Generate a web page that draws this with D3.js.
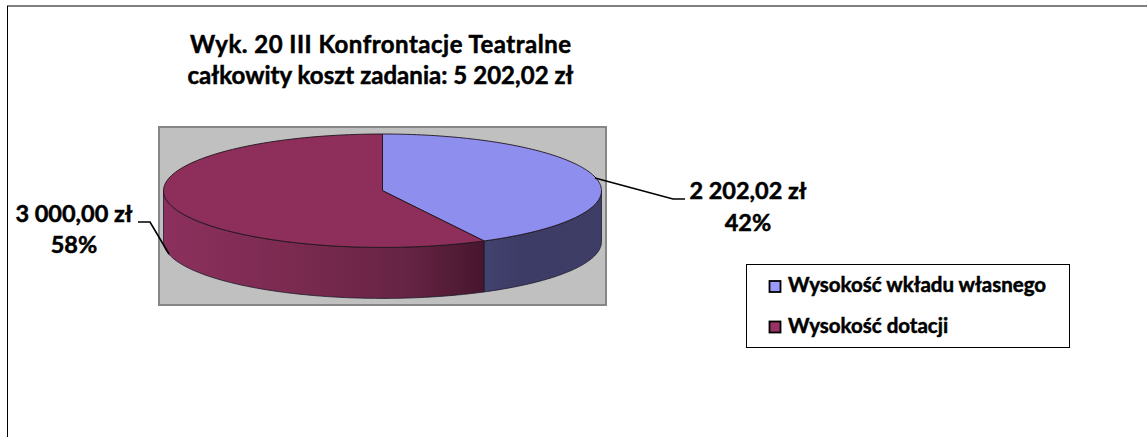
<!DOCTYPE html>
<html><head><meta charset="utf-8">
<script src="https://cdn.jsdelivr.net/npm/d3@7"></script>
<style>html,body{margin:0;padding:0;background:#fff}svg{display:block}text{font-family:Lato,"Open Sans",sans-serif;font-weight:700;fill:#000;stroke:#000;stroke-width:.5px}</style>
</head><body><div id="c"></div>
<script>
const titleLines = ["Wyk. 20 III Konfrontacje Teatralne", "całkowity koszt zadania: 5 202,02 zł"];
const categories = ["Wysokość wkładu własnego", "Wysokość dotacji"];
const values = [2202.02, 3000.00];
const valueLabels = ["2 202,02 zł", "3 000,00 zł"];
const percentLabels = ["42%", "58%"];
const topColors = ["#8e8eee", "#8e2f5b"];
const swatchColors = ["#9999ff", "#993366"];

const W = 1147, H = 437;
const svg = d3.select("#c").append("svg").attr("width", W).attr("height", H);
const defs = svg.append("defs");
const cx = 382.5, cy = 190.7, rx = 219, ry = 56.7, depth = 51;

const gradBlue = defs.append("linearGradient").attr("id","sideBlue").attr("gradientUnits","userSpaceOnUse")
  .attr("x1",484).attr("x2",602).attr("y1",0).attr("y2",0);
gradBlue.append("stop").attr("offset",0).attr("stop-color","#424270");
gradBlue.append("stop").attr("offset",0.3).attr("stop-color","#3d3c66");
gradBlue.append("stop").attr("offset",1).attr("stop-color","#3e3d66");
const gradRed = defs.append("linearGradient").attr("id","sideRed").attr("gradientUnits","userSpaceOnUse")
  .attr("x1",163).attr("x2",484).attr("y1",0).attr("y2",0);
gradRed.append("stop").attr("offset",0).attr("stop-color","#8c305d");
gradRed.append("stop").attr("offset",0.4).attr("stop-color","#7b2a50");
gradRed.append("stop").attr("offset",0.75).attr("stop-color","#672444");
gradRed.append("stop").attr("offset",1).attr("stop-color","#47162e");
const sideFills = ["url(#sideBlue)","url(#sideRed)"];

// frame of the chart
svg.append("line").attr("x1",7).attr("x2",W).attr("y1",6).attr("y2",6).attr("stroke","#808080").attr("stroke-width",2);
svg.append("line").attr("x1",7.5).attr("x2",7.5).attr("y1",6).attr("y2",H).attr("stroke","#000").attr("stroke-width",1);

// plot area
svg.append("rect").attr("x",159).attr("y",127).attr("width",447).attr("height",178)
  .attr("fill","#c0c0c0").attr("stroke","#868686").attr("stroke-width",2);

const pie = d3.pie().sort(null).value(d => d);
const arcs = pie(values);
const px = a => cx + rx * Math.sin(a);
const py = a => cy - ry * Math.cos(a);
const samples = (a0, a1) => d3.range(0, 121).map(i => a0 + (a1 - a0) * i / 120);

// side walls (only the front half, a in [PI/2, 3PI/2])
arcs.forEach((d, i) => {
  const a0 = Math.max(d.startAngle, Math.PI / 2), a1 = Math.min(d.endAngle, 3 * Math.PI / 2);
  if (a1 <= a0) return;
  const s = samples(a0, a1);
  const pts = s.map(a => [px(a), py(a)]).concat(s.slice().reverse().map(a => [px(a), py(a) + depth]));
  svg.append("path").attr("d", d3.line()(pts) + "Z").attr("fill", sideFills[i])
    .attr("stroke","#1a1a2a").attr("stroke-width",0.8).attr("stroke-linejoin","round");
});
// top faces
arcs.forEach((d, i) => {
  const pts = [[cx, cy]].concat(samples(d.startAngle, d.endAngle).map(a => [px(a), py(a)]));
  svg.append("path").attr("d", d3.line()(pts) + "Z").attr("fill", topColors[i])
    .attr("stroke","#20141c").attr("stroke-width",0.9).attr("stroke-linejoin","round");
});

// leader lines
const leaders = [[[595,178],[673,199],[685,199]], [[169,254],[150,222],[138,222]]];
leaders.forEach(l => svg.append("path").attr("d", d3.line()(l)).attr("fill","none").attr("stroke","#000").attr("stroke-width",1.6));

// title
const titleWidths = [381, 386];
svg.append("g").selectAll("text").data(titleLines).join("text")
  .attr("x",380.5).attr("y",(d,i)=>53+i*31).attr("text-anchor","middle")
  .attr("font-size",24).attr("textLength",(d,i)=>titleWidths[i]).attr("lengthAdjust","spacing").text(d=>d);

// data labels
const labelPos = [[748,199,231],[74,222,253]];
arcs.forEach((d,i) => {
  svg.append("text").attr("x",labelPos[i][0]).attr("y",labelPos[i][1]).attr("text-anchor","middle").attr("font-size",23.5).text(valueLabels[i]);
  svg.append("text").attr("x",labelPos[i][0]).attr("y",labelPos[i][2]).attr("text-anchor","middle").attr("font-size",23.5).text(percentLabels[i]);
});

// legend
svg.append("rect").attr("x",746.5).attr("y",264.5).attr("width",323).attr("height",83).attr("fill","#fff").attr("stroke","#000").attr("stroke-width",1);
const ly = d3.scalePoint().domain(categories).range([286.5,327]);
categories.forEach((c,i) => {
  svg.append("rect").attr("x",769.5).attr("y",ly(c)-5.5).attr("width",11).attr("height",11)
    .attr("fill",swatchColors[i]).attr("stroke","#000").attr("stroke-width",1.8);
  svg.append("text").attr("x",788).attr("y",ly(c)+5.5).attr("font-size",20.5).text(c);
});
</script></body></html>
